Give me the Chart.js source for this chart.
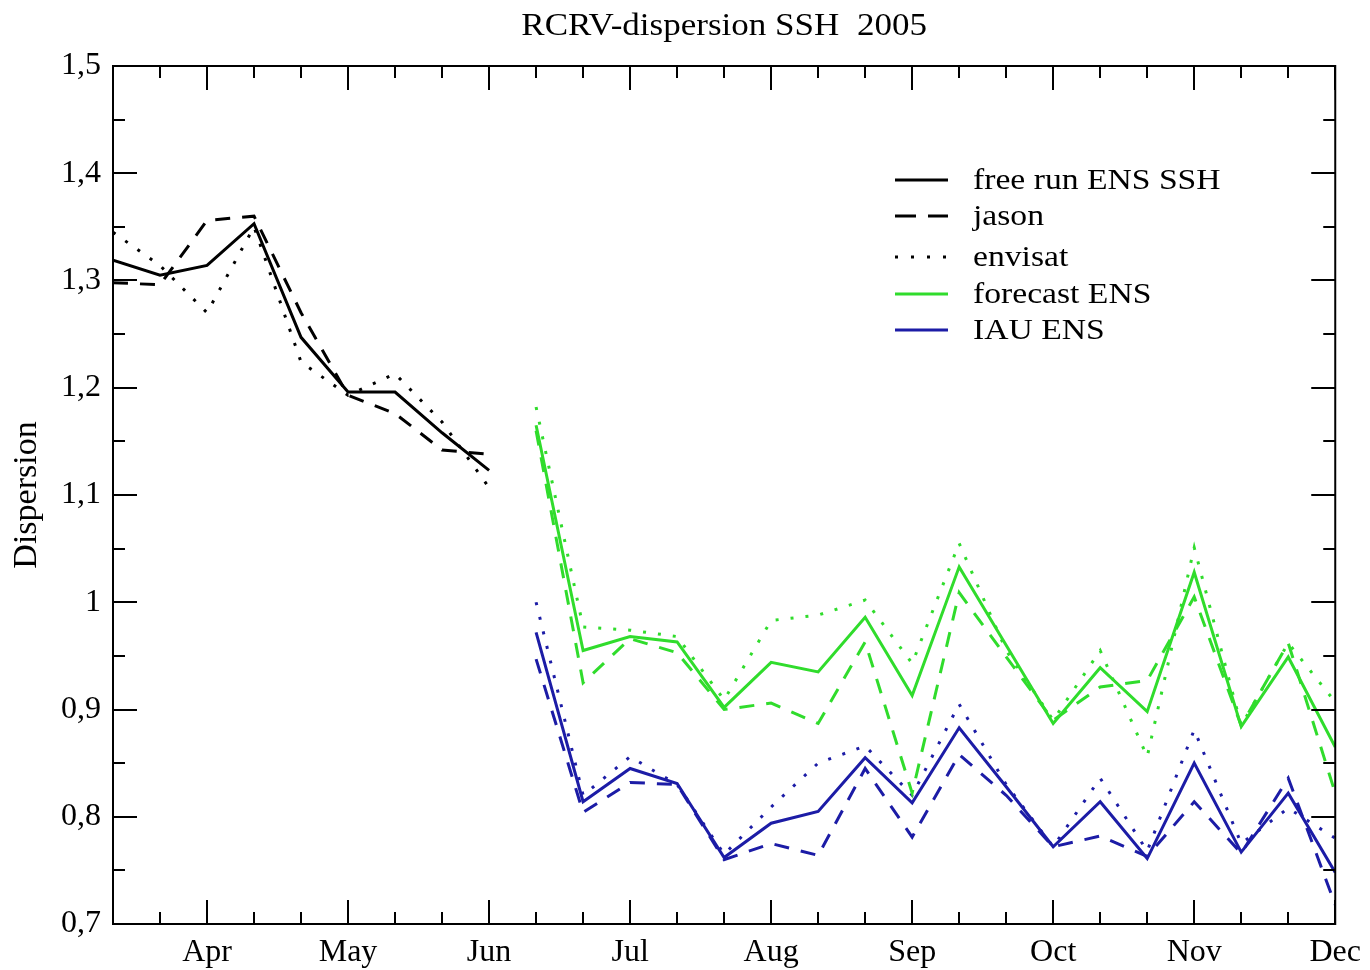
<!DOCTYPE html>
<html>
<head>
<meta charset="utf-8">
<script src="https://cdn.jsdelivr.net/npm/chart.js@4/dist/chart.umd.min.js"></script>
<style>
  html, body { margin: 0; padding: 0; background: #ffffff; }
  #c { display: block; }
</style>
</head>
<body>
<canvas id="c" width="1370" height="970"></canvas>
<script>
// x is counted in 10-day steps from 1 April (0 = Apr, 3 = May, 6 = Jun, ...)
const monthNames = ['Apr', 'May', 'Jun', 'Jul', 'Aug', 'Sep', 'Oct', 'Nov', 'Dec'];
const yLabelValues = [0.7, 0.8, 0.9, 1.0, 1.1, 1.2, 1.3, 1.4, 1.5];
const chartTitle = 'RCRV-dispersion SSH  2005';

// free run period
const freeRunX       = [-2, -1, 0, 1, 2, 3, 4, 5, 6];
const freeRunEns     = [1.319, 1.305, 1.314, 1.353, 1.247, 1.196, 1.196, 1.158, 1.123];
const freeRunJason   = [1.298, 1.296, 1.356, 1.360, 1.270, 1.193, 1.176, 1.142, 1.138];
const freeRunEnvisat = [1.345, 1.314, 1.270, 1.350, 1.224, 1.193, 1.213, 1.168, 1.107];

// assimilation period
const assimX          = [7, 8, 9, 10, 11, 12, 13, 14, 15, 16, 17, 18, 19, 20, 21, 22, 23, 24];
const forecastEns     = [1.165, 0.955, 0.968, 0.963, 0.902, 0.944, 0.935, 0.986, 0.913, 1.033, 0.960, 0.887, 0.939, 0.898, 1.028, 0.884, 0.949, 0.865];
const forecastJason   = [1.160, 0.925, 0.966, 0.953, 0.900, 0.906, 0.887, 0.963, 0.822, 1.009, 0.949, 0.890, 0.921, 0.927, 1.005, 0.885, 0.962, 0.822];
const forecastEnvisat = [1.182, 0.977, 0.974, 0.968, 0.909, 0.983, 0.988, 1.002, 0.943, 1.055, 0.955, 0.890, 0.955, 0.856, 1.051, 0.885, 0.962, 0.907];
const iauEns          = [0.972, 0.814, 0.845, 0.831, 0.762, 0.794, 0.805, 0.855, 0.813, 0.883, 0.828, 0.772, 0.814, 0.761, 0.850, 0.767, 0.822, 0.748];
const iauJason        = [0.947, 0.804, 0.832, 0.830, 0.760, 0.775, 0.764, 0.845, 0.781, 0.858, 0.820, 0.772, 0.782, 0.763, 0.814, 0.766, 0.836, 0.718];
const iauEnvisat      = [1.000, 0.820, 0.856, 0.830, 0.765, 0.809, 0.850, 0.866, 0.820, 0.905, 0.830, 0.772, 0.836, 0.768, 0.881, 0.775, 0.808, 0.780];

const BLACK = '#000000';
const GREEN = '#30dc2c';
const BLUE  = '#1c1ca6';
const SOLID = [];
const DASHED = [15, 12];
const DOTTED = [3, 12];
const SERIF = "'Liberation Serif', 'DejaVu Serif', serif";
const TEXT_STRETCH = 1.13;

function pts(xs, ys) { return xs.map((x, i) => ({ x: x, y: ys[i] })); }
function series(label, xs, ys, color, dash) {
  return {
    label: label,
    data: pts(xs, ys),
    borderColor: color,
    backgroundColor: color,
    borderWidth: 3,
    borderDash: dash,
    borderCapStyle: 'butt',
    pointRadius: 0,
    tension: 0,
    fill: false
  };
}

const datasets = [
  series('free run ENS SSH', freeRunX, freeRunEns, BLACK, SOLID),
  series('free run jason', freeRunX, freeRunJason, BLACK, DASHED),
  series('free run envisat', freeRunX, freeRunEnvisat, BLACK, DOTTED),
  series('forecast ENS', assimX, forecastEns, GREEN, SOLID),
  series('forecast jason', assimX, forecastJason, GREEN, DASHED),
  series('forecast envisat', assimX, forecastEnvisat, GREEN, DOTTED),
  series('IAU ENS', assimX, iauEns, BLUE, SOLID),
  series('IAU jason', assimX, iauJason, BLUE, DASHED),
  series('IAU envisat', assimX, iauEnvisat, BLUE, DOTTED)
];

// legend entries: label, colour, dash pattern of the sample line
const legendLabels = ['free run ENS SSH', 'jason', 'envisat', 'forecast ENS', 'IAU ENS'];
const legendColors = [BLACK, BLACK, BLACK, GREEN, BLUE];
const legendDashes = [SOLID, [21, 12], [3, 13], SOLID, SOLID];

// title, frame with inward tick marks on all four sides, and the legend box
const framePlugin = {
  id: 'frameTicks',
  afterDraw(chart) {
    const { ctx, chartArea: a, scales } = chart;
    ctx.save();

    // title centred over the plot area
    ctx.save();
    ctx.translate((a.left + a.right) / 2, 27);
    ctx.scale(TEXT_STRETCH, 1);
    ctx.font = '31px ' + SERIF;
    ctx.fillStyle = '#000';
    ctx.textAlign = 'center';
    ctx.textBaseline = 'middle';
    ctx.fillText(chartTitle, 0, 0);
    ctx.restore();

    ctx.strokeStyle = '#000';
    ctx.lineWidth = 2;
    ctx.setLineDash([]);
    ctx.strokeRect(a.left, a.top, a.right - a.left, a.bottom - a.top);
    ctx.beginPath();
    scales.x.ticks.forEach(t => {
      const px = Math.round(scales.x.getPixelForValue(t.value));
      const len = (Math.round(t.value) % 3 === 0) ? 24 : 12;
      ctx.moveTo(px, a.bottom); ctx.lineTo(px, a.bottom - len);
      ctx.moveTo(px, a.top); ctx.lineTo(px, a.top + len);
    });
    scales.y.ticks.forEach(t => {
      const py = Math.round(scales.y.getPixelForValue(t.value));
      const major = Math.abs(t.value * 10 - Math.round(t.value * 10)) < 1e-6;
      const len = major ? 24 : 12;
      ctx.moveTo(a.left, py); ctx.lineTo(a.left + len, py);
      ctx.moveTo(a.right, py); ctx.lineTo(a.right - len, py);
    });
    ctx.stroke();

    // legend
    const rowY = [180, 216, 257, 294, 330];
    legendLabels.forEach((lab, i) => {
      ctx.beginPath();
      ctx.strokeStyle = legendColors[i];
      ctx.lineWidth = 3;
      ctx.setLineDash(legendDashes[i]);
      ctx.moveTo(895, rowY[i]);
      ctx.lineTo(948, rowY[i]);
      ctx.stroke();
      ctx.setLineDash([]);
      ctx.save();
      ctx.translate(973, rowY[i] + 1);
      ctx.scale(1.16, 1);
      ctx.font = '29px ' + SERIF;
      ctx.textBaseline = 'middle';
      ctx.textAlign = 'left';
      ctx.fillStyle = '#000';
      ctx.fillText(lab, 0, 0);
      ctx.restore();
    });
    ctx.restore();
  }
};

new Chart(document.getElementById('c'), {
  type: 'line',
  data: { datasets: datasets },
  plugins: [framePlugin],
  options: {
    responsive: false,
    devicePixelRatio: 1,
    animation: false,
    layout: { padding: { left: 0, right: 33, top: 66, bottom: 0 } },
    plugins: {
      legend: { display: false },
      tooltip: { enabled: false },
      title: { display: false }
    },
    scales: {
      x: {
        type: 'linear',
        min: -2,
        max: 24,
        grid: { display: false, drawTicks: false },
        border: { display: false },
        afterBuildTicks(scale) {
          const t = [];
          for (let v = -2; v <= 24; v++) t.push({ value: v });
          scale.ticks = t;
        },
        afterFit(scale) { scale.height = 46; },
        ticks: {
          autoSkip: false,
          maxRotation: 0,
          padding: 9,
          color: '#000',
          font: { family: SERIF, size: 32 },
          callback(v) { return (v >= 0 && v % 3 === 0) ? monthNames[v / 3] : ''; }
        }
      },
      y: {
        type: 'linear',
        min: 0.7,
        max: 1.5,
        grid: { display: false, drawTicks: false },
        border: { display: false },
        afterBuildTicks(scale) {
          const t = [];
          for (let k = 14; k <= 30; k++) t.push({ value: Math.round(k * 5) / 100 });
          scale.ticks = t;
        },
        afterFit(scale) { scale.width = 113; },
        title: {
          display: true,
          text: 'Dispersion',
          color: '#000',
          font: { family: SERIF, size: 34 },
          padding: { top: 7, bottom: 0 }
        },
        ticks: {
          autoSkip: false,
          padding: 12,
          color: '#000',
          font: { family: SERIF, size: 32 },
          callback(v) {
            const hit = yLabelValues.find(l => Math.abs(l - v) < 1e-6);
            if (hit === undefined) return '';
            return String(Math.round(hit * 10) / 10).replace('.', ',');
          }
        }
      }
    }
  }
});
</script>
</body>
</html>
